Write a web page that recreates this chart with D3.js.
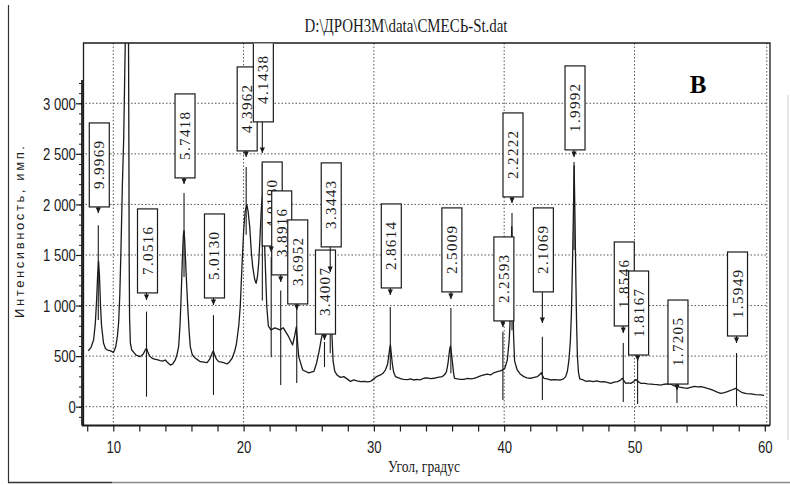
<!DOCTYPE html>
<html>
<head>
<meta charset="utf-8">
<script src="https://cdn.jsdelivr.net/npm/d3@7"></script>
<style>
html, body { margin: 0; padding: 0; background: #fff; }
svg { display: block; }
</style>
</head>
<body>
<div id="chart"></div>
<script>
// Diffraction scan: 2θ angle (degrees) and counts
const scanAngle = [
  8.08, 8.30, 8.49, 8.62, 8.72, 8.80, 8.87, 8.94, 9.02, 9.10, 9.25, 9.40, 9.55, 9.75, 9.90, 10.00,
  10.10, 10.20, 10.32, 10.41, 10.50, 10.59, 10.70, 10.80, 10.92, 11.05, 11.17, 11.20, 11.22, 11.25,
  11.31, 11.42, 11.56, 11.75, 12.07, 12.30, 12.45, 12.55, 12.65, 12.80, 12.97, 13.15, 13.35, 13.61,
  13.80, 13.99, 14.15, 14.38, 14.55, 14.76, 14.90, 15.02, 15.12, 15.20, 15.30, 15.38, 15.43, 15.48,
  15.58, 15.71, 15.82, 15.91, 16.05, 16.17, 16.40, 16.68, 16.95, 17.20, 17.40, 17.53, 17.64, 17.69,
  17.78, 17.92, 18.09, 18.30, 18.47, 18.73, 18.90, 19.12, 19.30, 19.45, 19.63, 19.75, 19.88, 20.01,
  20.12, 20.25, 20.35, 20.47, 20.60, 20.70, 20.85, 20.96, 21.06, 21.16, 21.27, 21.36, 21.44, 21.52,
  21.62, 21.78, 21.90, 22.10, 22.41, 22.80, 23.05, 23.46, 23.76, 23.92, 24.05, 24.23, 24.54, 25.00,
  25.40, 25.60, 25.80, 25.95, 26.05, 26.20, 26.40, 26.65, 26.78, 26.87, 27.00, 27.17, 27.43, 27.69,
  28.00, 28.20, 28.46, 28.70, 28.97, 29.30, 29.50, 29.74, 29.99, 30.25, 30.51, 30.70, 30.89, 31.05,
  31.14, 31.22, 31.27, 31.34, 31.41, 31.52, 31.66, 31.90, 32.10, 32.30, 32.60, 32.80, 33.06, 33.30,
  33.55, 33.83, 34.10, 34.35, 34.60, 34.90, 35.24, 35.45, 35.57, 35.68, 35.75, 35.82, 35.88, 35.94,
  36.04, 36.12, 36.19, 36.40, 36.65, 36.90, 37.20, 37.45, 37.67, 37.90, 38.19, 38.45, 38.70, 38.96,
  39.20, 39.47, 39.70, 39.90, 40.05, 40.24, 40.38, 40.44, 40.51, 40.58, 40.65, 40.72, 40.80, 41.00,
  41.25, 41.51, 41.75, 42.03, 42.30, 42.54, 42.75, 42.85, 42.95, 43.05, 43.30, 43.56, 43.90, 44.10,
  44.33, 44.55, 44.72, 44.85, 44.97, 45.08, 45.16, 45.24, 45.31, 45.37, 45.43, 45.50, 45.56, 45.62,
  45.70, 45.80, 46.06, 46.30, 46.55, 46.83, 47.10, 47.40, 47.66, 47.90, 48.17, 48.45, 48.69, 48.90,
  49.07, 49.20, 49.33, 49.50, 49.71, 49.90, 50.10, 50.25, 50.48, 50.80, 51.00, 51.24, 51.50, 51.75,
  52.01, 52.30, 52.55, 52.78, 53.05, 53.29, 53.55, 53.80, 54.06, 54.30, 54.60, 54.85, 55.08, 55.35,
  55.60, 55.85, 56.10, 56.35, 56.62, 56.90, 57.13, 57.45, 57.77, 58.00, 58.28, 58.60, 58.92, 59.30,
  59.69, 59.95
];
const scanCounts = [
  551, 590, 660, 820, 1050, 1300, 1440, 1300, 1000, 800, 630, 575, 560, 555, 545, 535,
  560, 600, 700, 830, 1100, 1550, 2200, 2650, 3600, 4400, 3600, 2500, 1500, 890,
  630, 560, 540, 510, 495, 520, 560, 578, 540, 500, 480, 470, 465, 455,
  450, 462, 440, 412, 420, 462, 520, 600, 800, 1055, 1450, 1700, 1740, 1650,
  1350, 1000, 750, 594, 520, 495, 470, 445, 440, 435, 470, 511, 545, 548,
  510, 470, 445, 440, 435, 422, 440, 479, 540, 620, 800, 1000, 1400, 1750,
  1930, 1995, 1930, 1780, 1520, 1385, 1260, 1220, 1280, 1418, 1700, 1950, 2080, 1900,
  1580, 990, 800, 760, 780, 760, 780, 692, 610, 700, 790, 495, 363, 335,
  350, 430, 550, 660, 720, 850, 780, 1000, 720, 450, 350, 314, 290, 297,
  270, 250, 265, 255, 247, 250, 245, 250, 275, 300, 314, 330, 365, 420,
  500, 580, 610, 520, 429, 340, 297, 285, 275, 271, 268, 275, 264, 270,
  265, 281, 285, 278, 281, 290, 297, 320, 346, 420, 495, 570, 600, 540,
  429, 330, 281, 275, 270, 271, 280, 275, 281, 290, 304, 315, 323, 314,
  335, 346, 355, 365, 380, 462, 650, 800, 1250, 1780, 1300, 700, 450, 363,
  320, 297, 285, 281, 290, 297, 320, 336, 305, 281, 275, 264, 268, 265,
  264, 275, 297, 350, 462, 650, 924, 1400, 1900, 2380, 1900, 1253, 800, 500,
  340, 275, 264, 250, 255, 247, 255, 245, 247, 240, 231, 242, 247, 260,
  281, 255, 231, 235, 231, 245, 268, 250, 231, 230, 226, 224, 220, 218,
  214, 222, 226, 224, 205, 198, 192, 186, 182, 190, 200, 196, 198, 190,
  182, 172, 158, 145, 132, 140, 148, 165, 182, 160, 138, 130, 126, 120,
  116, 112
];

// Identified reflections: interplanar spacing d (Å) and peak position 2θ
const peakLabel = ["9.9969", "7.0516", "5.7418", "5.0130", "4.3962", "4.1438", "4.0180",
  "3.8916", "3.6952", "3.4007", "3.3443", "2.8614", "2.5009", "2.2593", "2.2222",
  "2.1069", "1.9992", "1.8546", "1.8167", "1.7205", "1.5949"];
const peakAngle = [8.85, 12.55, 15.43, 17.69, 20.20, 21.44, 22.12,
  22.85, 24.08, 26.21, 26.65, 31.26, 35.91, 39.90, 40.60,
  42.93, 45.36, 49.14, 50.24, 53.26, 57.83];
// Levels (counts) of each label's lower edge, arrow tip and marker stick
const labelBase = [1975, 1125, 2262, 1075, 2529, 2816, 1589,
  1303, 1016, 718, 1580, 1174, 1135, 848, 2074,
  1135, 2539, 798, 511, 224, 699];
const arrowTip = [1916, 1055, 2203, 1006, 2470, 2509, 1530,
  1233, 956, 659, 1332, 1105, 1065, 788, 2015,
  828, 2470, 729, 451, 165, 630];
const stickTop = [1795, 940, 2112, 905, 2370, 2400, 1480,
  1150, 985, 640, 1300, 985, 975, 740, 1914,
  692, 2420, 629, 480, 200, 531];
const stickBottom = [857, 99, 1282, 116, 1700, 1050, 490,
  214, 235, 392, 530, 363, 330, 66, 757,
  66, 1550, 47, 27, 37, 7];

// Axis ticks
const yTickValues = [0, 500, 1000, 1500, 2000, 2500, 3000];
const yTickLabels = ["0", "500", "1 000", "1 500", "2 000", "2 500", "3 000"];
const xTickValues = [10, 20, 30, 40, 50, 60];

const chartTitle = "D:\\ДРОН3М\\data\\СМЕСЬ-St.dat";
const xTitle = "Угол, градус";
const yTitle = "Интенсивность, имп.";
const panelTag = "В";

const W = 790, H = 485;
const plot = { left: 82, right: 770, top: 43, bottom: 425.5 };
const ink = "#1b1b1b";

const svg = d3.select("#chart").append("svg")
  .attr("width", W).attr("height", H)
  .attr("viewBox", `0 0 ${W} ${H}`);

const x = d3.scaleLinear().domain([7.6, 60.4]).range([plot.left, plot.right]);
const y = d3.scaleLinear().domain([-186, 3596]).range([plot.bottom, plot.top]);

const defs = svg.append("defs");
defs.append("clipPath").attr("id", "plotClip")
  .append("rect").attr("x", plot.left).attr("y", plot.top)
  .attr("width", plot.right - plot.left).attr("height", plot.bottom - plot.top);
defs.append("clipPath").attr("id", "labelClip")
  .append("rect").attr("x", 0).attr("y", plot.top + 0.6)
  .attr("width", W).attr("height", H);

// page border of the figure
svg.append("line").attr("x1", 8.5).attr("x2", 8.5).attr("y1", 5).attr("y2", 483)
  .attr("stroke", "#333").attr("stroke-width", 1.2);
svg.append("line").attr("x1", 8).attr("x2", 112).attr("y1", 482.5).attr("y2", 482.5)
  .attr("stroke", "#333").attr("stroke-width", 1.5);
svg.append("line").attr("x1", 112).attr("x2", 790).attr("y1", 482.5).attr("y2", 482.5)
  .attr("stroke", "#8a8a8a").attr("stroke-width", 1.5);
svg.append("line").attr("x1", 788).attr("x2", 788).attr("y1", 95).attr("y2", 440)
  .attr("stroke", "#d0d0d0").attr("stroke-width", 1);

// dotted grid
const grid = svg.append("g").attr("stroke", "#555").attr("stroke-width", 1)
  .attr("stroke-dasharray", "1.5,2");
grid.selectAll(".hg").data(yTickValues).join("line")
  .attr("x1", plot.left).attr("x2", 767)
  .attr("y1", d => y(d)).attr("y2", d => y(d));
grid.selectAll(".vg").data(xTickValues).join("line")
  .attr("x1", d => x(d) + (d === 60 ? 2 : 0)).attr("x2", d => x(d) + (d === 60 ? 2 : 0))
  .attr("y1", plot.top).attr("y2", plot.bottom);

// frame and axis lines
svg.append("path")
  .attr("d", `M${plot.left + 1.5},${plot.bottom} V${plot.top} H${plot.right} V${plot.bottom}`)
  .attr("fill", "none").attr("stroke", ink).attr("stroke-width", 1.3);
svg.append("line").attr("x1", plot.left).attr("x2", plot.left)
  .attr("y1", 80).attr("y2", plot.bottom)
  .attr("stroke", ink).attr("stroke-width", 1.8);
svg.append("line").attr("x1", plot.left).attr("x2", plot.right)
  .attr("y1", plot.bottom).attr("y2", plot.bottom)
  .attr("stroke", ink).attr("stroke-width", 2.2);

// x axis: ticks every 2°, labels at the decades
const xAxis = svg.append("g").attr("transform", `translate(0,${plot.bottom})`)
  .call(d3.axisBottom(x).tickValues(d3.range(8, 61, 2)).tickSize(6)
    .tickFormat(d => xTickValues.includes(d) ? d : ""));
xAxis.select(".domain").remove();
xAxis.selectAll(".tick line").attr("stroke", ink).attr("stroke-width", 1.2);
xAxis.selectAll(".tick text")
  .attr("y", 27.5).attr("dy", 0)
  .attr("transform", "scale(0.82,1)")
  .attr("fill", ink)
  .style("font-family", "'Liberation Sans', Arial, sans-serif")
  .style("font-size", "16px");

// y axis: minor ticks every 100, major with labels every 500
const yMinor = svg.append("g").attr("transform", `translate(${plot.left},0)`)
  .call(d3.axisLeft(y).tickValues(d3.range(-100, 3201, 100)).tickSize(3).tickFormat(""));
yMinor.select(".domain").remove();
yMinor.selectAll(".tick line").attr("stroke", ink).attr("stroke-width", 1);
const yMajor = svg.append("g").attr("transform", `translate(${plot.left},0)`)
  .call(d3.axisLeft(y).tickValues(yTickValues).tickSize(6)
    .tickFormat((d, i) => yTickLabels[i]));
yMajor.select(".domain").remove();
yMajor.selectAll(".tick line").attr("stroke", ink).attr("stroke-width", 1.2);
yMajor.selectAll(".tick text")
  .attr("x", -7.5).attr("dy", "0.36em")
  .attr("transform", "scale(0.82,1)")
  .attr("fill", ink)
  .style("font-family", "'Liberation Sans', Arial, sans-serif")
  .style("font-size", "16px");

// scan curve
const scan = scanAngle.map((a, i) => [a, scanCounts[i]]);
svg.append("path")
  .datum(scan)
  .attr("clip-path", "url(#plotClip)")
  .attr("d", d3.line().x(d => x(d[0])).y(d => y(d[1])))
  .attr("fill", "none").attr("stroke", ink).attr("stroke-width", 1.3)
  .attr("stroke-linejoin", "round");

// marker sticks through each identified peak
const peaks = peakAngle.map((a, i) => ({
  a, label: peakLabel[i], base: labelBase[i], tip: arrowTip[i],
  top: stickTop[i], bottom: stickBottom[i]
}));
svg.append("g").selectAll("line").data(peaks).join("line")
  .attr("x1", d => x(d.a)).attr("x2", d => x(d.a))
  .attr("y1", d => y(d.top)).attr("y2", d => y(d.bottom))
  .attr("stroke", ink).attr("stroke-width", 1.1);

// d-spacing label boxes
const boxW = 20, boxH = 84;
const labels = svg.append("g").attr("clip-path", "url(#labelClip)");
const lab = labels.selectAll("g").data(peaks).join("g")
  .attr("transform", d => `translate(${x(d.a) + 1},${y(d.base)})`);
lab.append("rect")
  .attr("x", -boxW / 2).attr("y", -boxH)
  .attr("width", boxW).attr("height", boxH)
  .attr("fill", "#fff").attr("stroke", ink).attr("stroke-width", 1.2);
lab.append("text")
  .attr("transform", `translate(0,${-boxH / 2}) rotate(-90)`)
  .attr("text-anchor", "middle")
  .attr("dominant-baseline", "central")
  .attr("textLength", 48).attr("lengthAdjust", "spacing")
  .attr("fill", ink)
  .style("font-family", "'Liberation Serif', 'Times New Roman', serif")
  .style("font-size", "15px")
  .text(d => d.label);

// arrows from the boxes down to the peaks
const arr = svg.append("g");
arr.selectAll("line").data(peaks).join("line")
  .attr("x1", d => x(d.a)).attr("x2", d => x(d.a))
  .attr("y1", d => y(d.base)).attr("y2", d => y(d.tip))
  .attr("stroke", ink).attr("stroke-width", 1.1);
arr.selectAll("path").data(peaks).join("path")
  .attr("d", d => {
    const px = x(d.a), py = y(d.tip);
    return `M${px - 2.6},${py - 5.5} L${px + 2.6},${py - 5.5} L${px},${py} Z`;
  })
  .attr("fill", ink);

// titles
svg.append("text")
  .attr("x", 406).attr("y", 32)
  .attr("text-anchor", "middle")
  .attr("textLength", 203).attr("lengthAdjust", "spacingAndGlyphs")
  .attr("fill", ink)
  .style("font-family", "'Liberation Serif', 'Times New Roman', serif")
  .style("font-size", "19px")
  .text(chartTitle);

svg.append("text")
  .attr("x", 424).attr("y", 472)
  .attr("text-anchor", "middle")
  .attr("textLength", 72).attr("lengthAdjust", "spacingAndGlyphs")
  .attr("fill", ink)
  .style("font-family", "'Liberation Serif', 'Times New Roman', serif")
  .style("font-size", "17px")
  .text(xTitle);

svg.append("text")
  .attr("transform", "translate(24,232) rotate(-90)")
  .attr("text-anchor", "middle")
  .attr("textLength", 172).attr("lengthAdjust", "spacing")
  .attr("fill", ink)
  .style("font-family", "'Liberation Sans', Arial, sans-serif")
  .style("font-size", "13px")
  .text(yTitle);

svg.append("text")
  .attr("x", 698).attr("y", 93)
  .attr("text-anchor", "middle")
  .attr("fill", "#000")
  .style("font-family", "'Liberation Serif', 'Times New Roman', serif")
  .style("font-weight", "bold")
  .style("font-size", "25px")
  .text(panelTag);
</script>
</body>
</html>
